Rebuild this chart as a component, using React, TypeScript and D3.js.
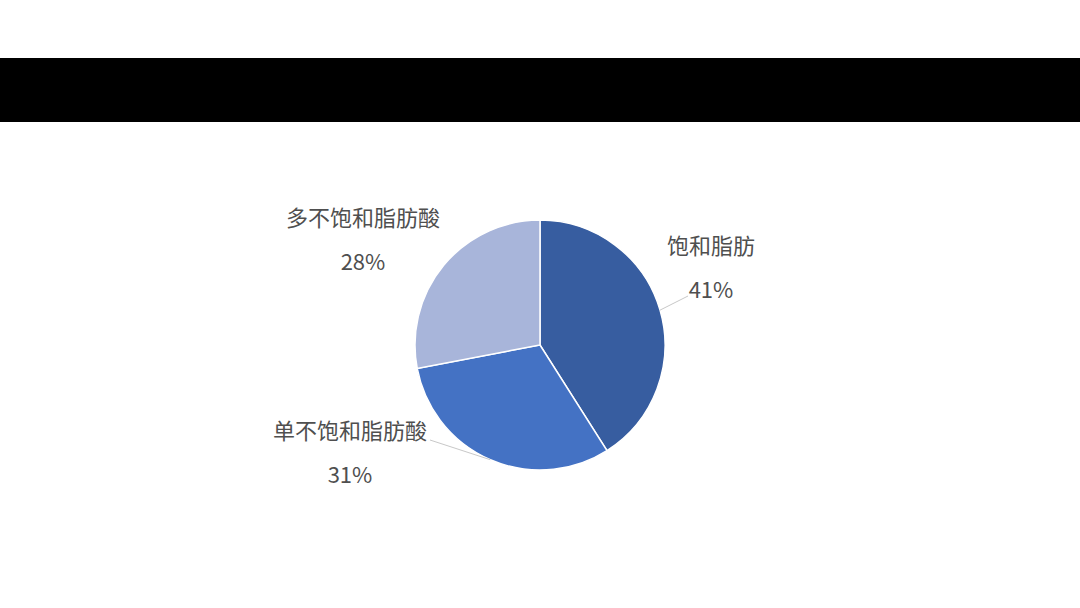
import React from "react";
import { arc, pie, PieArcDatum } from "d3";

// fat composition shares (%)
const categories = ["饱和脂肪", "单不饱和脂肪酸", "多不饱和脂肪酸"];
const values = [41, 31, 28];
const colors = ["#375DA0", "#4472C4", "#A8B5DA"];

// label box centre, relative to pie centre, and where its leader line ends
const labelOffsets: [number, number][] = [
  [171, -77],
  [-190, 108],
  [-177, -105],
];
const leaderEnds: ([number, number] | null)[] = [
  [148, -49],
  [-110, 95],
  null,
];

const W = 1080;
const H = 608;
const cx = 540;
const cy = 345;
const radius = 125;

export default function App() {
  const slices = pie<number>().sort(null).value((d) => d)(values);
  const arcGen = arc<PieArcDatum<number>>().innerRadius(0).outerRadius(radius);

  return (
    <div style={{ position: "fixed", left: 0, top: 0 }}>
      <svg width={W} height={H} viewBox={`0 0 ${W} ${H}`} style={{ display: "block", background: "#fff" }}>
        <rect x={0} y={58} width={W} height={64} fill="#000" />
        <g transform={`translate(${cx}, ${cy})`}>
          {slices.map((s, i) => (
            <path key={i} d={arcGen(s) ?? ""} fill={colors[i]} stroke="#fff" strokeWidth={1.5} />
          ))}

          {/* leader lines from slice edge to label */}
          {slices.map((s, i) => {
            const end = leaderEnds[i];
            if (!end) return null;
            const mid = (s.startAngle + s.endAngle) / 2;
            return (
              <line
                key={`l-${i}`}
                x1={radius * Math.sin(mid)}
                y1={-radius * Math.cos(mid)}
                x2={end[0]}
                y2={end[1]}
                stroke="#C8C8C8"
                strokeWidth={1}
              />
            );
          })}

          {slices.map((s, i) => {
            const [dx, dy] = labelOffsets[i];
            return (
              <text
                key={`t-${i}`}
                x={dx}
                y={dy}
                textAnchor="middle"
                fontFamily="'Noto Sans CJK SC', 'Noto Sans', sans-serif"
                fontSize={22}
                fill="#4F4F4F"
              >
                <tspan x={dx} dy={-14}>{categories[i]}</tspan>
                <tspan x={dx} dy={44}>{`${s.data}%`}</tspan>
              </text>
            );
          })}
        </g>
      </svg>
    </div>
  );
}
